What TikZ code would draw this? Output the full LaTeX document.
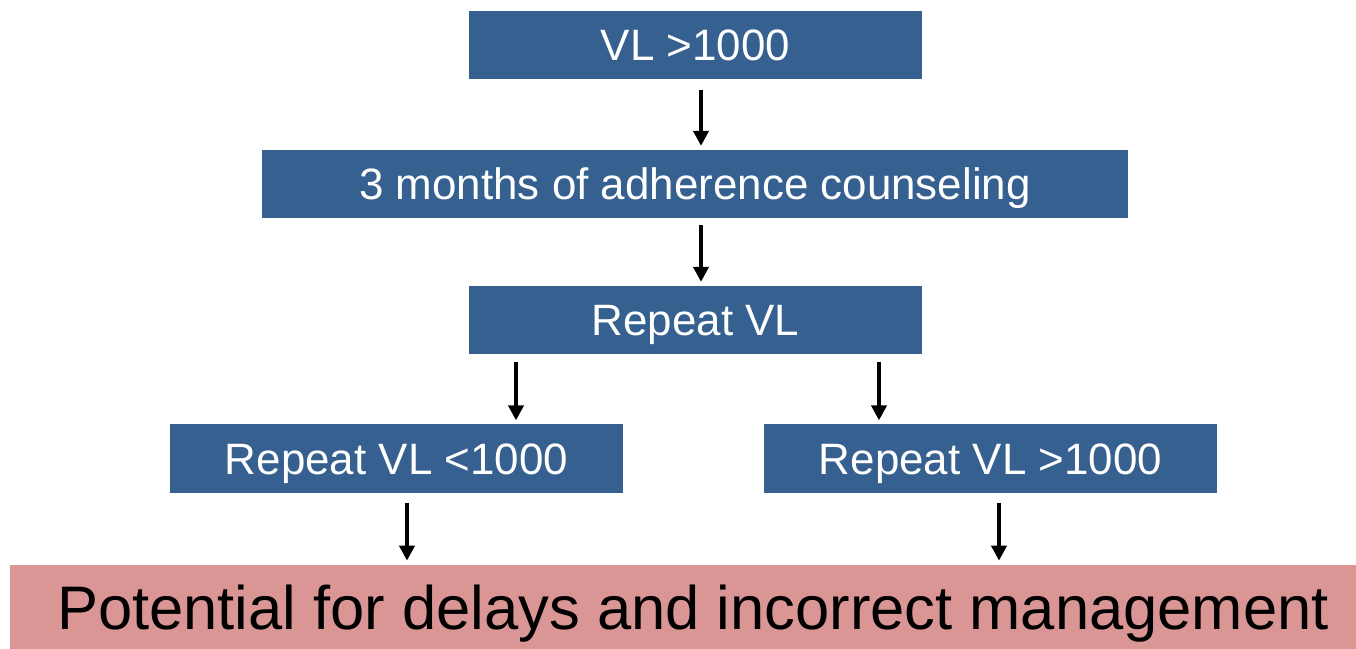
\documentclass[tikz,border=0pt]{standalone}
\usepackage{fontspec}
\setmainfont{Liberation Sans}
\usetikzlibrary{arrows.meta}
\definecolor{boxblue}{RGB}{54,96,143}
\definecolor{boxpink}{RGB}{218,150,148}

\begin{document}
\begin{tikzpicture}[x=0.02cm, y=-0.02cm,
	bluebox/.style={fill=boxblue, text=white, inner sep=0pt, minimum height=1.37cm,
		text height=17.9pt, text depth=0pt, font=\fontsize{25}{30}\selectfont},
	flow/.style={line width=2.3pt, -{Triangle[length=8.5pt, width=8.5pt]}}]
	\useasboundingbox (0,0) rectangle (1356,649);
	\node[bluebox, minimum width=9.06cm] (vl) at (695.5,45) {VL >1000};
	\node[bluebox, minimum width=17.32cm] (counsel) at (695,184) {3 months of adherence counseling};
	\node[bluebox, minimum width=9.06cm] (repeat) at (695.5,320) {Repeat VL};
	\node[bluebox, minimum width=9.06cm] (low) at (396.5,458.5) {Repeat VL <1000};
	\node[bluebox, minimum width=9.06cm] (high) at (990.5,458.5) {Repeat VL >1000};
	\node[fill=boxpink, inner sep=0pt, minimum width=27.32cm, minimum height=1.74cm,
		text height=25pt, text depth=0pt, font=\fontsize{35}{42}\selectfont] (delay) at (693,608) {Potential for delays and incorrect management};
	% arrow tails
	\coordinate (a1) at (701,90);
	\coordinate (a2) at (701,225);
	\coordinate (a3) at (516,362);
	\coordinate (a4) at (879,362);
	\coordinate (a5) at (407,503);
	\coordinate (a6) at (999,503);
	\draw[flow, shorten >=2pt] (a1) -- (a1 |- counsel.north);
	\draw[flow, shorten >=2pt] (a2) -- (a2 |- repeat.north);
	\draw[flow, shorten >=2pt] (a3) -- (a3 |- low.north);
	\draw[flow, shorten >=2pt] (a4) -- (a4 |- high.north);
	\draw[flow, shorten >=2pt] (a5) -- (a5 |- delay.north);
	\draw[flow, shorten >=2pt] (a6) -- (a6 |- delay.north);
\end{tikzpicture}
\end{document}
